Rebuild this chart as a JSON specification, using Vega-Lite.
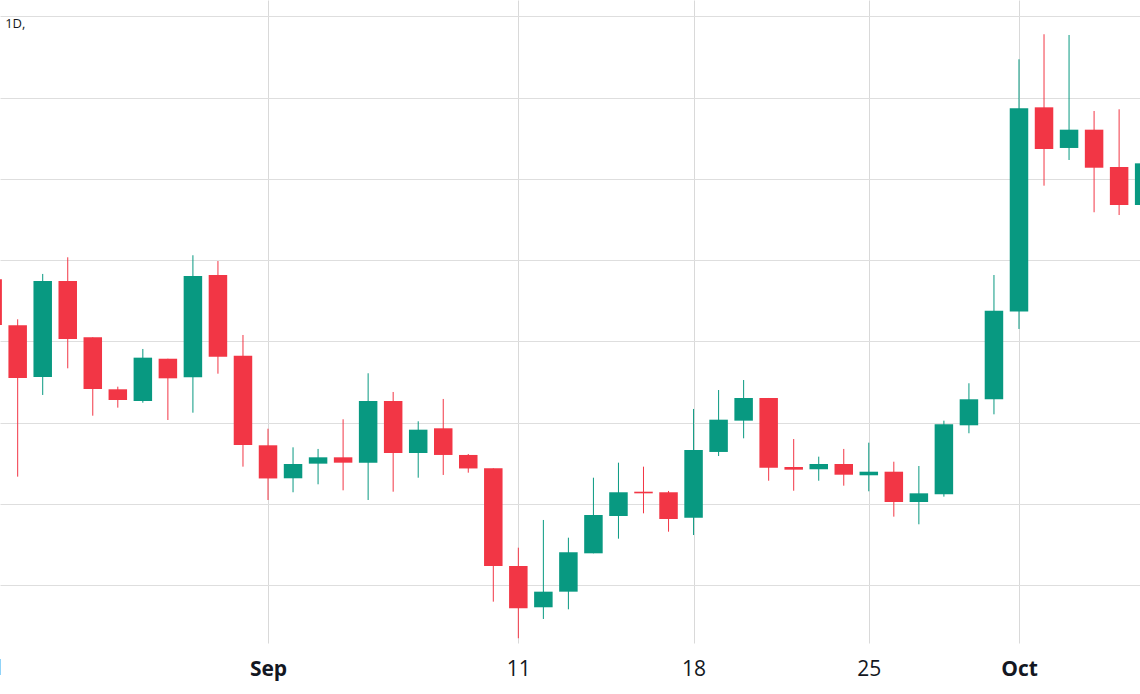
{
  "$schema": "https://vega.github.io/schema/vega-lite/v6.json",
  "width": 1140,
  "height": 643,
  "autosize": "none",
  "padding": {"left": 0, "top": 0, "right": 0, "bottom": 51},
  "background": "white",
  "config": {"view": {"stroke": null}},
  "data": {"values": [
    {"date": "2023-08-21T00:00:00Z", "open": 47.64, "high": 49.03, "low": 41.40, "close": 42.02},
    {"date": "2023-08-22T00:00:00Z", "open": 41.98, "high": 42.72, "low": 23.36, "close": 35.50},
    {"date": "2023-08-23T00:00:00Z", "open": 35.62, "high": 48.30, "low": 33.41, "close": 47.43},
    {"date": "2023-08-24T00:00:00Z", "open": 47.43, "high": 50.35, "low": 36.69, "close": 40.30},
    {"date": "2023-08-25T00:00:00Z", "open": 40.51, "high": 40.51, "low": 30.86, "close": 34.15},
    {"date": "2023-08-26T00:00:00Z", "open": 34.11, "high": 34.43, "low": 31.85, "close": 32.79},
    {"date": "2023-08-27T00:00:00Z", "open": 32.67, "high": 39.07, "low": 32.46, "close": 38.00},
    {"date": "2023-08-28T00:00:00Z", "open": 37.87, "high": 37.87, "low": 30.33, "close": 35.46},
    {"date": "2023-08-29T00:00:00Z", "open": 35.59, "high": 50.60, "low": 31.23, "close": 48.05},
    {"date": "2023-08-30T00:00:00Z", "open": 48.17, "high": 49.89, "low": 36.03, "close": 38.12},
    {"date": "2023-08-31T00:00:00Z", "open": 38.24, "high": 40.79, "low": 24.59, "close": 27.26},
    {"date": "2023-09-01T00:00:00Z", "open": 27.22, "high": 29.26, "low": 20.49, "close": 23.14},
    {"date": "2023-09-02T00:00:00Z", "open": 23.16, "high": 26.97, "low": 21.44, "close": 24.92},
    {"date": "2023-09-03T00:00:00Z", "open": 24.96, "high": 26.77, "low": 22.42, "close": 25.74},
    {"date": "2023-09-04T00:00:00Z", "open": 25.74, "high": 30.42, "low": 21.68, "close": 25.08},
    {"date": "2023-09-05T00:00:00Z", "open": 25.08, "high": 36.08, "low": 20.49, "close": 32.67},
    {"date": "2023-09-06T00:00:00Z", "open": 32.67, "high": 33.78, "low": 21.51, "close": 26.27},
    {"date": "2023-09-07T00:00:00Z", "open": 26.27, "high": 30.17, "low": 23.23, "close": 29.14},
    {"date": "2023-09-08T00:00:00Z", "open": 29.31, "high": 32.92, "low": 23.57, "close": 26.03},
    {"date": "2023-09-09T00:00:00Z", "open": 26.03, "high": 26.15, "low": 23.85, "close": 24.37},
    {"date": "2023-09-10T00:00:00Z", "open": 24.39, "high": 24.39, "low": 7.98, "close": 12.37},
    {"date": "2023-09-11T00:00:00Z", "open": 12.37, "high": 14.62, "low": 3.48, "close": 7.17},
    {"date": "2023-09-12T00:00:00Z", "open": 7.29, "high": 18.03, "low": 5.85, "close": 9.21},
    {"date": "2023-09-13T00:00:00Z", "open": 9.21, "high": 15.85, "low": 7.04, "close": 14.06},
    {"date": "2023-09-14T00:00:00Z", "open": 13.93, "high": 23.23, "low": 13.93, "close": 18.64},
    {"date": "2023-09-15T00:00:00Z", "open": 18.52, "high": 25.08, "low": 15.73, "close": 21.44},
    {"date": "2023-09-16T00:00:00Z", "open": 21.51, "high": 24.59, "low": 18.85, "close": 21.31},
    {"date": "2023-09-17T00:00:00Z", "open": 21.44, "high": 21.60, "low": 16.59, "close": 18.15},
    {"date": "2023-09-18T00:00:00Z", "open": 18.31, "high": 31.69, "low": 16.18, "close": 26.64},
    {"date": "2023-09-19T00:00:00Z", "open": 26.40, "high": 34.02, "low": 25.90, "close": 30.37},
    {"date": "2023-09-20T00:00:00Z", "open": 30.25, "high": 35.25, "low": 28.08, "close": 33.04},
    {"date": "2023-09-21T00:00:00Z", "open": 33.04, "high": 33.04, "low": 22.86, "close": 24.46},
    {"date": "2023-09-22T00:00:00Z", "open": 24.55, "high": 27.99, "low": 21.63, "close": 24.22},
    {"date": "2023-09-23T00:00:00Z", "open": 24.27, "high": 25.82, "low": 22.86, "close": 24.92},
    {"date": "2023-09-24T00:00:00Z", "open": 24.92, "high": 26.77, "low": 22.25, "close": 23.60},
    {"date": "2023-09-25T00:00:00Z", "open": 23.53, "high": 27.54, "low": 21.56, "close": 23.97},
    {"date": "2023-09-26T00:00:00Z", "open": 23.97, "high": 25.20, "low": 18.44, "close": 20.24},
    {"date": "2023-09-27T00:00:00Z", "open": 20.24, "high": 24.67, "low": 17.50, "close": 21.31},
    {"date": "2023-09-28T00:00:00Z", "open": 21.19, "high": 30.25, "low": 20.90, "close": 29.80},
    {"date": "2023-09-29T00:00:00Z", "open": 29.68, "high": 34.85, "low": 28.70, "close": 32.88},
    {"date": "2023-09-30T00:00:00Z", "open": 32.88, "high": 48.17, "low": 31.03, "close": 43.78},
    {"date": "2023-10-01T00:00:00Z", "open": 43.68, "high": 74.71, "low": 41.53, "close": 68.68},
    {"date": "2023-10-02T00:00:00Z", "open": 68.80, "high": 77.79, "low": 59.16, "close": 63.67},
    {"date": "2023-10-03T00:00:00Z", "open": 63.80, "high": 77.70, "low": 62.32, "close": 66.05},
    {"date": "2023-10-04T00:00:00Z", "open": 66.05, "high": 68.35, "low": 55.89, "close": 61.37},
    {"date": "2023-10-05T00:00:00Z", "open": 61.46, "high": 68.56, "low": 55.55, "close": 56.78},
    {"date": "2023-10-06T00:00:00Z", "open": 56.78, "high": 63.55, "low": 55.55, "close": 61.91}
  ]},
  "layer": [
    {
      "mark": {"type": "rule", "clip": true, "strokeWidth": 1},
      "encoding": {
        "x": {
          "field": "date",
          "type": "temporal",
          "scale": {
            "type": "utc",
            "padding": 0,
            "domain": [
              {"year": 2023, "month": 8, "date": 21, "hours": 7, "minutes": 3, "utc": true},
              {"year": 2023, "month": 10, "date": 5, "hours": 20, "minutes": 1, "utc": true}
            ]
          },
          "axis": {
            "title": null,
            "values": [
              {"year": 2023, "month": 9, "date": 1, "utc": true},
              {"year": 2023, "month": 9, "date": 11, "utc": true},
              {"year": 2023, "month": 9, "date": 18, "utc": true},
              {"year": 2023, "month": 9, "date": 25, "utc": true},
              {"year": 2023, "month": 10, "date": 1, "utc": true}
            ],
            "labelExpr": "utcdate(datum.value) == 1 ? utcFormat(datum.value, '%b') : '' + utcdate(datum.value)",
            "labelFontWeight": {"condition": {"test": "utcdate(datum.value) == 1", "value": "bold"}, "value": "normal"},
            "labelFont": "Open Sans",
            "labelFontSize": 21,
            "labelColor": "#131722",
            "labelBaseline": "alphabetic",
            "labelPadding": 32,
            "labelFlush": false,
            "labelOverlap": false,
            "labelBound": false,
            "domain": false,
            "ticks": false,
            "grid": true,
            "gridColor": "#d9d9d9",
            "gridWidth": 1
          }
        },
        "y": {
          "field": "low",
          "type": "quantitative",
          "scale": {"domain": [2.895, 82.005], "nice": false, "zero": false},
          "axis": {
            "title": null,
            "values": [10, 20, 30, 40, 50, 60, 70, 80],
            "labels": false,
            "ticks": false,
            "domain": false,
            "grid": true,
            "gridColor": "#dedede",
            "gridWidth": 1
          }
        },
        "y2": {"field": "high"},
        "color": {"condition": {"test": "datum.open < datum.close", "value": "#089981"}, "value": "#F23645"}
      }
    },
    {
      "mark": {"type": "bar", "clip": true, "width": 18.5},
      "encoding": {
        "x": {"field": "date", "type": "temporal"},
        "y": {"field": "open", "type": "quantitative"},
        "y2": {"field": "close"},
        "color": {"condition": {"test": "datum.open < datum.close", "value": "#089981"}, "value": "#F23645"}
      }
    },
    {
      "data": {"values": [{"label": "1D,"}]},
      "mark": {"type": "text", "align": "left", "baseline": "middle", "font": "Open Sans", "fontSize": 13, "color": "#131722"},
      "encoding": {
        "x": {"datum": {"year": 2023, "month": 8, "date": 21, "hours": 12, "utc": true}, "type": "temporal"},
        "y": {"datum": 79.11, "type": "quantitative"},
        "text": {"field": "label"}
      }
    },
    {
      "data": {"values": [{"label": "21"}]},
      "mark": {"type": "text", "align": "center", "baseline": "alphabetic", "font": "Open Sans", "fontSize": 21, "color": "#131722"},
      "encoding": {
        "x": {"datum": {"year": 2023, "month": 8, "date": 21, "utc": true}, "type": "temporal"},
        "y": {"datum": -1.04, "type": "quantitative"},
        "text": {"field": "label"}
      }
    }
  ]
}
